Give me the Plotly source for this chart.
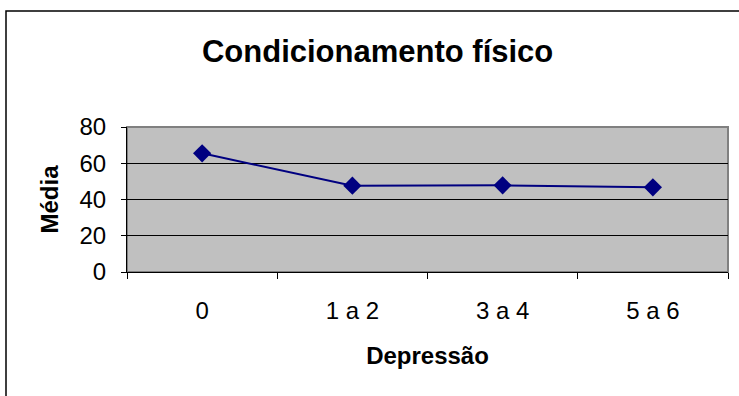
import plotly.graph_objects as go

categories = ["0", "1 a 2", "3 a 4", "5 a 6"]
media = [65.5, 47.6, 47.8, 46.7]
y_ticks = [0, 20, 40, 60, 80]

title_text = "Condicionamento físico"
x_title = "Depressão"
y_title = "Média"

fig = go.Figure()
fig.add_trace(go.Scatter(
    x=categories, y=media, mode="lines+markers",
    line=dict(color="#000080", width=2),
    marker=dict(symbol="diamond", size=14, color="#000080"),
    showlegend=False,
))

font_family = "Liberation Sans, Arial, sans-serif"

fig.update_layout(
    width=739, height=396,
    margin=dict(l=127, r=11, t=127, b=124, autoexpand=False),
    paper_bgcolor="white",
    plot_bgcolor="#C0C0C0",
    font=dict(family=font_family, color="black", size=24),
    title=dict(text="<b>" + title_text + "</b>", x=0.511, xanchor="center",
               y=0.872, yanchor="middle", font=dict(size=31, family=font_family)),
    xaxis=dict(
        type="category", range=[-0.5, 3.5],
        showgrid=False, showline=True, linecolor="black", linewidth=1,
        ticks="outside", tickson="boundaries", ticklen=6, tickcolor="black",
        ticklabelstandoff=17,
        tickfont=dict(size=24),
        title=dict(text="<b>" + x_title + "</b>", font=dict(size=24), standoff=24),
        zeroline=False, automargin=False,
    ),
    yaxis=dict(
        range=[0, 80], tickvals=y_ticks,
        showgrid=True, gridcolor="black", gridwidth=1,
        showline=True, linecolor="black", linewidth=1,
        ticks="outside", ticklen=5, tickcolor="black",
        ticklabelstandoff=10,
        tickfont=dict(size=24),
        title=dict(text="<b>" + y_title + "</b>", font=dict(size=24), standoff=14),
        zeroline=False, automargin=False,
    ),
    shapes=[
        dict(type="rect", xref="paper", yref="paper", x0=0, x1=1, y0=0, y1=1,
             line=dict(color="#808080", width=2), layer="below"),
        dict(type="rect", xref="paper", yref="paper",
             x0=(6 - 127) / 601, x1=(745 - 127) / 601,
             y0=(272 - 405) / 145, y1=(272 - 11) / 145,
             line=dict(color="black", width=1.5), layer="above"),
    ],
)

fig.write_html("out.html", config={"displayModeBar": False},
               post_script="document.body.style.margin='0';")
